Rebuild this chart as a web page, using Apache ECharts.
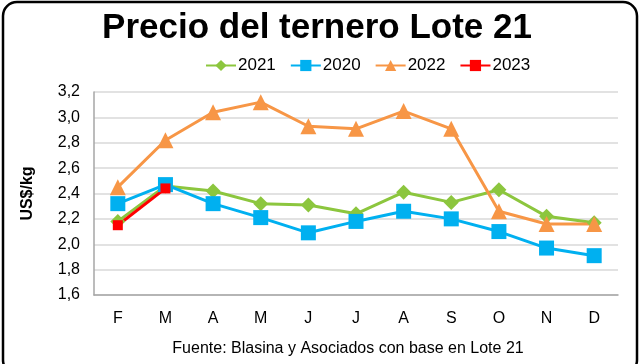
<!DOCTYPE html>
<html><head><meta charset="utf-8">
<script src="https://cdn.jsdelivr.net/npm/echarts@6/dist/echarts.min.js"></script>
<style>html,body{margin:0;padding:0;background:#fff}#c{width:640px;height:364px}</style>
</head><body><div id="c"></div>
<script>
var months = ['F','M','A','M','J','J','A','S','O','N','D'];
var s2021 = [2.18,2.46,2.42,2.32,2.31,2.24,2.41,2.33,2.43,2.22,2.17];
var s2020 = [2.32,2.47,2.32,2.21,2.09,2.18,2.26,2.20,2.10,1.97,1.91];
var s2022 = [2.45,2.82,3.04,3.12,2.93,2.91,3.05,2.91,2.26,2.16,2.16];
var s2023 = [2.15,2.44];
var chart = echarts.init(document.getElementById('c'));
var font = 'Liberation Sans, Arial, sans-serif';
function ser(name, data, color, symbol, size){
  return {name:name, type:'line', data:data, symbol:symbol, symbolSize:size,
    lineStyle:{color:color,width:3}, itemStyle:{color:color}, animation:false};
}
chart.setOption({
  animation:false,
  title:{text:'Precio del ternero Lote 21', left:312, top:6, textAlign:'center',
    textStyle:{fontFamily:font, fontSize:35, fontWeight:'bold', color:'#000'}},
  legend:{data:['2021','2020','2022','2023'], left:200, top:52, itemWidth:30, itemHeight:14, itemGap:14,
    textStyle:{fontFamily:font, fontSize:17, color:'#000', padding:[0,0,0,-3]}},
  grid:{left:94, right:22, top:92, bottom:69},
  xAxis:{type:'category', data:months, boundaryGap:true,
    axisLine:{lineStyle:{color:'#a6a6a6', width:1.5}},
    axisTick:{inside:true, length:5, lineStyle:{color:'#a6a6a6'}},
    axisLabel:{fontFamily:font, fontSize:16, color:'#000', margin:16}},
  yAxis:{type:'value', min:1.6, max:3.2, interval:0.2, name:'US$/kg', nameLocation:'middle', nameGap:58,
    nameTextStyle:{fontFamily:font, fontSize:16, fontWeight:'bold', color:'#000'},
    axisLine:{show:true, lineStyle:{color:'#a6a6a6', width:1.5}},
    axisTick:{show:false},
    splitLine:{lineStyle:{color:'#d9d9d9', width:1.5}},
    axisLabel:{fontFamily:font, fontSize:16, color:'#000', margin:14,
      formatter:function(v){return v.toFixed(1).replace('.',',');}}},
  series:[
    ser('2021', s2021, '#8cc63e', 'diamond', 15),
    ser('2020', s2020, '#00b0f0', 'rect', 15),
    ser('2022', s2022, '#f79646', 'triangle', 16),
    ser('2023', s2023, '#ff0000', 'rect', 10)
  ],
  graphic:[
    {type:'rect', shape:{x:3, y:2, width:634, height:372, r:14}, style:{fill:null, stroke:'#000', lineWidth:2.5}, silent:true},
    {type:'text', x:348, y:349, style:{text:'Fuente: Blasina y Asociados con base en Lote 21', font:'16px Liberation Sans, Arial, sans-serif', fill:'#000', align:'center', verticalAlign:'middle'}}
  ]
});
</script></body></html>
